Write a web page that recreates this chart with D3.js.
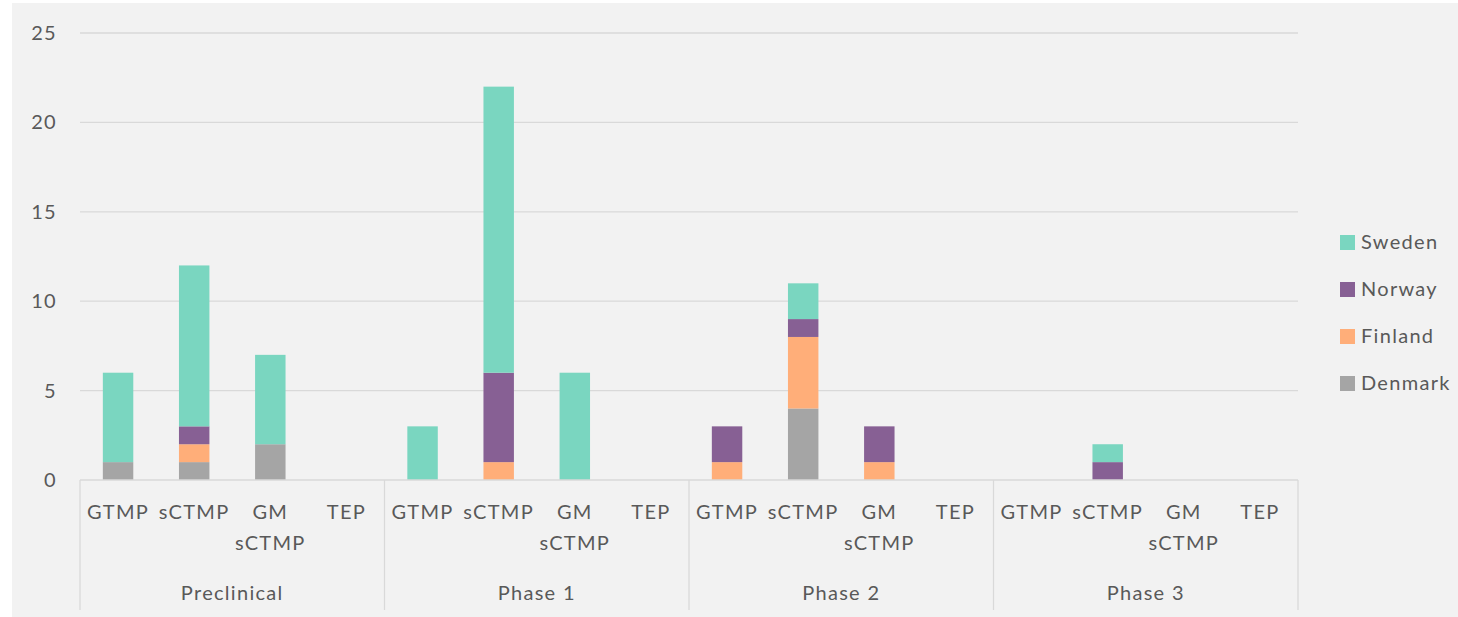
<!DOCTYPE html>
<html>
<head>
<meta charset="utf-8">
<script src="https://cdn.jsdelivr.net/npm/d3@7"></script>
<style>
body { margin: 0; background: #ffffff; }
text { font-family: Lato, "Open Sans", sans-serif; fill: #595959; letter-spacing: 1.3px; }
</style>
</head>
<body>
<script>
// Data
var phases = ["Preclinical", "Phase 1", "Phase 2", "Phase 3"];
var products = ["GTMP", "sCTMP", "GM sCTMP", "TEP"];
var countries = ["Denmark", "Finland", "Norway", "Sweden"];
var colors = ["#a5a5a5", "#ffae79", "#876094", "#7ad6c0"];

// values per phase, per product, stacked Denmark/Finland/Norway/Sweden
var denmark = [1, 1, 2, 0,  0, 0, 0, 0,  0, 4, 0, 0,  0, 0, 0, 0];
var finland = [0, 1, 0, 0,  0, 1, 0, 0,  1, 4, 1, 0,  0, 0, 0, 0];
var norway  = [0, 1, 0, 0,  0, 5, 0, 0,  2, 1, 2, 0,  0, 1, 0, 0];
var sweden  = [5, 9, 5, 0,  3, 16, 6, 0,  0, 2, 0, 0,  0, 1, 0, 0];
var yTicks = [0, 5, 10, 15, 20, 25];

var W = 1458, H = 617;
var plotLeft = 80, plotRight = 1298, plotTop = 33, plotBottom = 480;

var svg = d3.select("body").append("svg")
	.attr("width", W)
	.attr("height", H);

svg.append("rect")
	.attr("x", 12).attr("y", 3)
	.attr("width", W - 12).attr("height", H - 3)
	.attr("fill", "#f2f2f2");

// build rows
var rows = [];
phases.forEach(function(p, i) {
	products.forEach(function(c, j) {
		var k = i * 4 + j;
		rows.push({key: p + "|" + c, phase: p, product: c,
			Denmark: denmark[k], Finland: finland[k], Norway: norway[k], Sweden: sweden[k]});
	});
});

var x = d3.scaleBand()
	.domain(rows.map(function(d) { return d.key; }))
	.range([plotLeft, plotRight])
	.paddingInner(0.6)
	.paddingOuter(0.3);

var y = d3.scaleLinear()
	.domain([0, 25])
	.range([plotBottom, plotTop]);

var color = d3.scaleOrdinal().domain(countries).range(colors);

// gridlines
svg.append("g").selectAll("line")
	.data(yTicks.filter(function(t) { return t > 0; }))
	.enter().append("line")
	.attr("x1", plotLeft).attr("x2", plotRight)
	.attr("y1", function(d) { return y(d); })
	.attr("y2", function(d) { return y(d); })
	.attr("stroke", "#d9d9d9")
	.attr("stroke-width", 1.3);

// y labels
var yAxis = d3.axisLeft(y).tickValues(yTicks).tickSize(0).tickPadding(0);
var ya = svg.append("g")
	.attr("transform", "translate(57,0)")
	.call(yAxis);
ya.select(".domain").remove();
ya.selectAll("text")
	.style("font-size", "20px")
	.style("font-family", "Lato, sans-serif")
	.attr("fill", "#595959");

// stacked bars
var stack = d3.stack().keys(countries);
var series = stack(rows);

svg.append("g").selectAll("g")
	.data(series)
	.enter().append("g")
	.attr("fill", function(d) { return color(d.key); })
	.selectAll("rect")
	.data(function(d) { return d; })
	.enter().append("rect")
	.attr("x", function(d) { return x(d.data.key); })
	.attr("width", x.bandwidth())
	.attr("y", function(d) { return y(d[1]); })
	.attr("height", function(d) { return y(d[0]) - y(d[1]); });

// category axis
var axisG = svg.append("g");
axisG.append("line")
	.attr("x1", plotLeft).attr("x2", plotRight)
	.attr("y1", plotBottom).attr("y2", plotBottom)
	.attr("stroke", "#d9d9d9").attr("stroke-width", 1.3);

var groupW = (plotRight - plotLeft) / phases.length;
var seps = d3.range(phases.length + 1).map(function(i) { return plotLeft + i * groupW; });
axisG.selectAll("line.sep")
	.data(seps)
	.enter().append("line")
	.attr("class", "sep")
	.attr("x1", function(d) { return d; }).attr("x2", function(d) { return d; })
	.attr("y1", plotBottom).attr("y2", 610)
	.attr("stroke", "#d9d9d9").attr("stroke-width", 1.3);

var prodLabels = axisG.selectAll("text.prod")
	.data(rows)
	.enter().append("text")
	.attr("class", "prod")
	.attr("text-anchor", "middle")
	.style("font-size", "20px")
	.attr("x", function(d) { return x(d.key) + x.bandwidth() / 2; })
	.attr("y", 519);

prodLabels.each(function(d) {
	var words = d.product === "GM sCTMP" ? ["GM", "sCTMP"] : [d.product];
	var t = d3.select(this);
	words.forEach(function(w, i) {
		t.append("tspan")
			.attr("x", x(d.key) + x.bandwidth() / 2)
			.attr("dy", i === 0 ? 0 : 31)
			.text(w);
	});
});

axisG.selectAll("text.phase")
	.data(phases)
	.enter().append("text")
	.attr("class", "phase")
	.attr("text-anchor", "middle")
	.style("font-size", "20px")
	.attr("x", function(d, i) { return plotLeft + (i + 0.5) * groupW; })
	.attr("y", 600)
	.text(function(d) { return d; });

// legend
var legendOrder = countries.slice().reverse();
var lg = svg.append("g").selectAll("g")
	.data(legendOrder)
	.enter().append("g")
	.attr("transform", function(d, i) { return "translate(1340," + (235 + i * 47) + ")"; });
lg.append("rect")
	.attr("width", 15).attr("height", 15)
	.attr("fill", function(d) { return color(d); });
lg.append("text")
	.attr("x", 21).attr("y", 14)
	.style("font-size", "20px")
	.text(function(d) { return d; });
</script>
</body>
</html>
